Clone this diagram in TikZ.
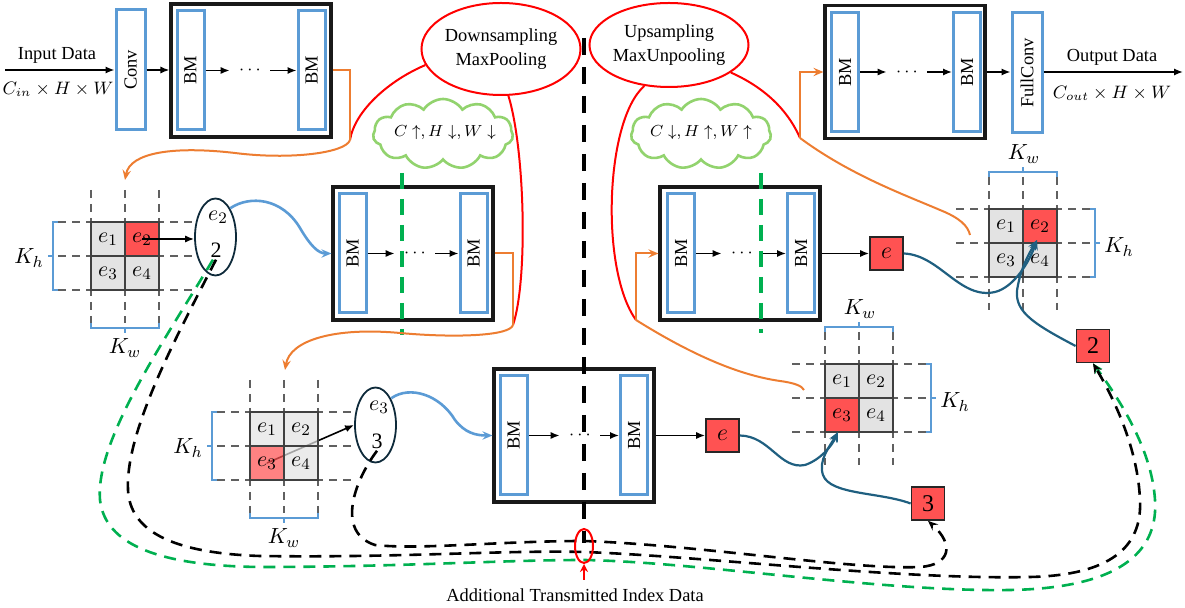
\documentclass[tikz,border=0pt]{standalone}
\usepackage{fontspec}
\setmainfont{Liberation Serif}
\usepackage{graphicx}
\usetikzlibrary{shapes.geometric,shapes.symbols,arrows.meta}

\definecolor{bmblue}{HTML}{5B9BD5}
\definecolor{orng}{HTML}{ED7D31}
\definecolor{cellred}{HTML}{FF5252}
\definecolor{cellgray}{HTML}{E3E3E3}
\definecolor{cloudgreen}{HTML}{92D36E}
\definecolor{dashgreen}{HTML}{00B050}
\definecolor{linkteal}{HTML}{1F5F80}
\definecolor{ringdark}{HTML}{0E2A3A}
\definecolor{gridgray}{HTML}{606060}

\tikzset{
  every node/.style={font=\fontsize{9.2}{11}\selectfont},
  mathlbl/.style={font=\fontsize{9}{11}\selectfont, inner sep=1pt},
  biglbl/.style={font=\fontsize{11}{13}\selectfont, inner sep=1pt},
  mod/.style={draw=black!90, line width=1.6pt, fill=white, minimum width=80pt, minimum height=66.5pt, inner sep=0pt},
  bm/.style={draw=bmblue, line width=1.5pt, fill=white, minimum width=13.5pt, minimum height=59.5pt, inner sep=0pt},
  dotsnode/.style={inner sep=0pt, minimum width=20pt},
  arr/.style={line width=0.8pt, -{Latex[length=4.5pt,width=3.6pt]}},
  barb/.style={-{Stealth[length=5pt,width=4.2pt,inset=1.8pt]}},
  orline/.style={draw=orng, line width=1pt},
  redline/.style={draw=red, line width=1pt},
  blueline/.style={draw=bmblue, line width=1.3pt},
  tealline/.style={draw=linkteal, line width=1.1pt},
  guide/.style={draw=gridgray, line width=0.8pt, dash pattern=on 4pt off 3pt},
  cell/.style={draw=black!75, line width=0.9pt, minimum size=17pt, inner sep=0pt, font=\fontsize{11}{13}\selectfont},
  brace/.style={draw=bmblue, line width=1pt},
  ring/.style={ellipse, draw=ringdark, line width=0.9pt, inner sep=0pt},
  redring/.style={ellipse, draw=red, line width=1pt, inner sep=0pt},
  redsq/.style={draw=black!85, fill=cellred, line width=0.9pt, minimum size=16.5pt, inner sep=0pt, font=\fontsize{12}{14}\selectfont},
  idx/.style={line width=1.3pt, dash pattern=on 6pt off 4pt},
  cloudnode/.style={cloud, draw=cloudgreen, line width=1.3pt, cloud puffs=11, cloud puff arc=115, cloud ignores aspect, minimum width=70pt, minimum height=35pt, inner sep=0pt},
  cloudtext/.style={font=\fontsize{8.5}{10}\selectfont, inner sep=0pt},
  greendash/.style={draw=dashgreen, line width=2pt, dash pattern=on 8pt off 5pt},
  bigdash/.style={draw=black, line width=2.2pt, dash pattern=on 8.5pt off 6pt},
}

% 2x2 pooling window with dashed guides: name, x0, y0, four fills, fill opacity
\newcommand{\poolgrid}[8]{%
  \foreach \k in {0,1,2}{%
    \draw[guide] ({#2+34*\k},{#3-32}) -- ({#2+34*\k},{#3+101});
    \draw[guide] ({#2-33},{#3+34*\k}) -- ({#2+101},{#3+34*\k});
  }
  \node[cell,fill=#4,fill opacity=#8,text opacity=1] (#1a) at ({#2+17},{#3+17}) {$e_1$};
  \node[cell,fill=#5,fill opacity=#8,text opacity=1] (#1b) at ({#2+51},{#3+17}) {$e_2$};
  \node[cell,fill=#6,fill opacity=#8,text opacity=1] (#1c) at ({#2+17},{#3+51}) {$e_3$};
  \node[cell,fill=#7,fill opacity=#8,text opacity=1] (#1d) at ({#2+51},{#3+51}) {$e_4$};
}
% brackets around a window: name, x0, y0
\newcommand{\braceleft}[3]{%
  \draw[brace] ({#2-33},#3) -- ({#2-38},#3) -- ({#2-38},{#3+68}) -- ({#2-33},{#3+68});
  \draw[brace] ({#2-38},{#3+34}) -- ({#2-43},{#3+34});
  \node[biglbl] (#1) at ({#2-62},{#3+36}) {$K_h$};
}
\newcommand{\braceright}[3]{%
  \draw[brace] ({#2+101},#3) -- ({#2+106},#3) -- ({#2+106},{#3+68}) -- ({#2+101},{#3+68});
  \draw[brace] ({#2+106},{#3+34}) -- ({#2+111},{#3+34});
  \node[biglbl] (#1) at ({#2+130},{#3+38}) {$K_h$};
}
\newcommand{\bracebottom}[3]{%
  \draw[brace] (#2,{#3+101}) -- (#2,{#3+106}) -- ({#2+68},{#3+106}) -- ({#2+68},{#3+101});
  \draw[brace] ({#2+34},{#3+106}) -- ({#2+34},{#3+111});
  \node[biglbl] (#1) at ({#2+34},{#3+126}) {$K_w$};
}
\newcommand{\bracetop}[3]{%
  \draw[brace] (#2,{#3-32}) -- (#2,{#3-37}) -- ({#2+68},{#3-37}) -- ({#2+68},{#3-32});
  \draw[brace] ({#2+34},{#3-37}) -- ({#2+34},{#3-42});
  \node[biglbl] (#1) at ({#2+35},{#3-55}) {$K_w$};
}

\begin{document}
\begin{tikzpicture}[x=0.5pt,y=-0.5pt]
\useasboundingbox (0,0) rectangle (1185,608);

% ---------- encoder input ----------
\node (tin) at (57,55) {Input Data};
\node[mathlbl] (tinm) at (58,89) {$C_{in}\times H\times W$};
\node[bm, minimum width=14.5pt, minimum height=60pt] (conv) at (130.5,70) {\rotatebox{90}{Conv}};
\coordinate (inp) at (5,70);
\draw[arr] (inp) -- (conv.west);

\node[mod] (box1) at (251,70.5) {};
\node[bm] (bm1) at (190.5,70.5) {\rotatebox{90}{BM}};
\node[bm] (bm2) at (311.5,70.5) {\rotatebox{90}{BM}};
\node[dotsnode] (d1) at (250,70.5) {$\cdots$};
\draw[arr] (conv.east) -- (conv.east -| box1.west);
\draw[arr] (bm1.east) -- (d1.west);
\draw[arr] (d1.east) -- (bm2.west);

% ---------- pooling / unpooling labels ----------
\node[redring, minimum width=73pt, minimum height=46pt, align=center] (down) at (501,49) {Downsampling\\[1pt]MaxPooling};
\node[redring, minimum width=73pt, minimum height=42pt, align=center] (up) at (669,45) {Upsampling\\[1pt]MaxUnpooling};

\coordinate (o1) at (350,140);
\coordinate (o2) at (513,325);
\coordinate (o3) at (636,320);
\coordinate (o4) at (800,138);
\draw[redline] (down.192) .. controls (390,80) and (355,110) .. (o1);
\draw[redline] (down.279) .. controls (525,150) and (528,280) .. (o2);
\draw[redline] (up.239) .. controls (605,120) and (600,270) .. (o3);
\draw[redline] (up.336) .. controls (770,90) and (790,115) .. (o4);

\node[cloudnode] (cl1) at (443,134) {};
\node[cloudtext] (cl1t) at (445,133) {$C\uparrow, H\downarrow, W\downarrow$};
\node[cloudnode] (cl2) at (701,134) {};
\node[cloudtext] (cl2t) at (701,133) {$C\downarrow, H\uparrow, W\uparrow$};

% ---------- first pooling stage ----------
\coordinate (t1) at (125,180);
\draw[orline] (box1.east) -| (o1);
\draw[orline, barb] (o1) .. controls (346,153) and (290,160) .. (235,153) .. controls (175,146) and (130,152) .. (t1);

\poolgrid{g1}{91}{222}{cellgray}{cellred}{cellgray}{cellgray}{1}
\braceleft{g1kh}{91}{222}
\bracebottom{g1kw}{91}{222}

\node[ring, minimum width=20.5pt, minimum height=38.5pt] (el1) at (215.5,237) {};
\node[biglbl] (el1t) at (218,217) {$e_2$};
\node[biglbl] (el1n) at (216,250) {2};
\draw[arr] (g1b.center) -- (g1b.center -| el1.west);

\node[mod] (box2) at (413,253.5) {};
\node[bm] (bm3) at (352.5,253.5) {\rotatebox{90}{BM}};
\node[bm] (bm4) at (473.5,253.5) {\rotatebox{90}{BM}};
\node[dotsnode] (d2) at (415,253.5) {$\cdots$};
\draw[arr] (bm3.east) -- (d2.west);
\draw[arr] (d2.east) -- (bm4.west);
\draw[blueline, barb] (el1t.north east) .. controls (250,195) and (282,198) .. (300,228) .. controls (310,245) and (318,253.5) .. (box2.west);

\coordinate (gd1a) at (402,173);
\coordinate (gd1b) at (402,335);
\draw[greendash] (gd1a) -- (gd1b);

% ---------- second pooling stage ----------
\coordinate (t2) at (285,370);
\draw[orline] (box2.east) -| (o2);
\draw[orline, barb] (o2) .. controls (510,336) and (455,338) .. (400,333) .. controls (335,327) and (290,340) .. (t2);

\node[ring, minimum width=20.5pt, minimum height=37.5pt] (el2) at (375.5,425) {};
\node[biglbl] (el2t) at (379,407) {$e_3$};
\node[biglbl] (el2n) at (377,441) {3};
\coordinate (g2from) at (267,463);
\draw[arr] (g2from) -- (el2.west);
\poolgrid{g2}{250}{412}{cellgray}{cellgray}{cellred}{cellgray}{0.72}
\braceleft{g2kh}{250}{412}
\bracebottom{g2kw}{250}{412}

\node[mod] (box3) at (574,435.5) {};
\node[bm] (bm5) at (513.5,435.5) {\rotatebox{90}{BM}};
\node[bm] (bm6) at (634,435.5) {\rotatebox{90}{BM}};
\node[dotsnode] (d3) at (580,435.5) {$\cdots$};
\draw[arr] (bm5.east) -- (d3.west);
\draw[arr] (d3.east) -- (bm6.west);
\draw[blueline, barb] (el2t.north east) .. controls (410,385) and (440,395) .. (455,420) .. controls (465,433) and (476,435.5) .. (box3.west);

\node[redsq] (se2) at (722.5,435.5) {$e$};
\draw[arr] (box3.east) -- (se2.west);

% ---------- first unpooling stage ----------
\node[mod] (box4) at (740,253.5) {};
\node[bm] (bm7) at (681,253.5) {\rotatebox{90}{BM}};
\node[bm] (bm8) at (801,253.5) {\rotatebox{90}{BM}};
\node[dotsnode] (d4) at (742,253.5) {$\cdots$};
\draw[arr] (bm7.east) -- (d4.west);
\draw[arr] (d4.east) -- (bm8.west);
\coordinate (gd2a) at (761,173);
\coordinate (gd2b) at (761,333);
\draw[greendash] (gd2a) -- (gd2b);

\draw[orline, barb] (o3) |- (box4.west);
\coordinate (t3) at (804,390);
\draw[orline] (o3) .. controls (700,360) and (745,376) .. (780,381) .. controls (795,383) and (802,386) .. (t3);

\poolgrid{g4}{825}{364}{cellgray}{cellgray}{cellred}{cellgray}{1}
\bracetop{g4kw}{825}{364}
\braceright{g4kh}{825}{364}

\node[redsq] (sq3) at (928,503.5) {3};
\coordinate (tp4) at (838,432);
\draw[tealline, barb] (se2.east) .. controls (770,436) and (780,470) .. (805,465) .. controls (820,460) and (832,446) .. (tp4);
\draw[tealline, barb] (sq3.west) .. controls (880,492) and (830,495) .. (823,475) .. controls (818,460) and (830,446) .. (tp4);

\node[redsq] (se1) at (886.5,253.5) {$e$};
\draw[arr] (box4.east) -- (se1.west);

% ---------- second unpooling stage ----------
\node[mod] (box5) at (905,72) {};
\node[bm] (bm9) at (845,72) {\rotatebox{90}{BM}};
\node[bm] (bm10) at (967,72) {\rotatebox{90}{BM}};
\node[dotsnode] (d5) at (907,72) {$\cdots$};
\draw[arr] (bm9.east) -- (d5.west);
\draw[arr] (d5.east) -- (bm10.west);
\draw[orline, barb] (o4) |- (box5.west);
\coordinate (t4) at (970,235);
\draw[orline] (o4) .. controls (850,175) and (905,195) .. (940,210) .. controls (960,218) and (968,226) .. (t4);

\poolgrid{g3}{989}{209}{cellgray}{cellred}{cellgray}{cellgray}{1}
\bracetop{g3kw}{989}{209}
\braceright{g3kh}{989}{209}

\node[redsq] (sq2) at (1093,346) {2};
\coordinate (tp3) at (1037,240);
\draw[tealline, barb] (se1.east) .. controls (940,255) and (960,300) .. (995,292) .. controls (1015,287) and (1030,260) .. (tp3);
\draw[tealline, barb] (sq2.west) .. controls (1030,322) and (1012,310) .. (1018,285) .. controls (1022,265) and (1030,252) .. (tp3);

\node[bm, minimum width=15pt, minimum height=60pt] (fc) at (1027,73) {\rotatebox{90}{FullConv}};
\draw[arr] (box5.east) -- (box5.east -| fc.west);
\coordinate (outp) at (1183,72);
\draw[arr] (fc.east |- outp) -- (outp);
\node (tout) at (1112,57) {Output Data};
\node[mathlbl] (toutm) at (1112,93) {$C_{out}\times H\times W$};

% ---------- transmitted indices ----------
\draw[idx, draw=dashgreen, barb] ([xshift=-1.5pt]el1n.south) .. controls (165,340) and (95,440) .. (100,500)
  .. controls (105,545) and (160,566) .. (260,567)
  .. controls (400,567) and (500,560) .. (584,560)
  .. controls (700,562) and (880,592) .. (1010,590)
  .. controls (1130,588) and (1158,545) .. (1155,500)
  .. controls (1152,450) and (1120,400) .. (sq2.south);
\draw[idx, barb] (el1n.south) .. controls (180,330) and (125,430) .. (128,490)
  .. controls (130,530) and (170,553) .. (260,556)
  .. controls (400,558) and (500,550) .. (584,552)
  .. controls (700,556) and (900,580) .. (1030,577)
  .. controls (1120,575) and (1142,540) .. (1140,500)
  .. controls (1138,450) and (1115,400) .. (sq2.south);
\draw[idx, barb] (el2n.south) .. controls (355,480) and (335,532) .. (375,545)
  .. controls (420,550) and (500,541) .. (584,541)
  .. controls (700,545) and (850,570) .. (920,567)
  .. controls (950,565) and (955,545) .. (sq3.south);

\coordinate (vtop) at (584,38);
\coordinate (vbot) at (584,543);
\draw[bigdash] (vtop) -- (vbot);
\node[redring, minimum width=9pt, minimum height=17pt] (ring) at (584,546) {};
\coordinate (rarr) at (584,580);
\draw[draw=red, line width=1pt, -{Stealth[length=4pt,width=4pt]}] (rarr) -- (ring.south);
\node (note) at (575,595) {Additional Transmitted Index Data};
\end{tikzpicture}
\end{document}
